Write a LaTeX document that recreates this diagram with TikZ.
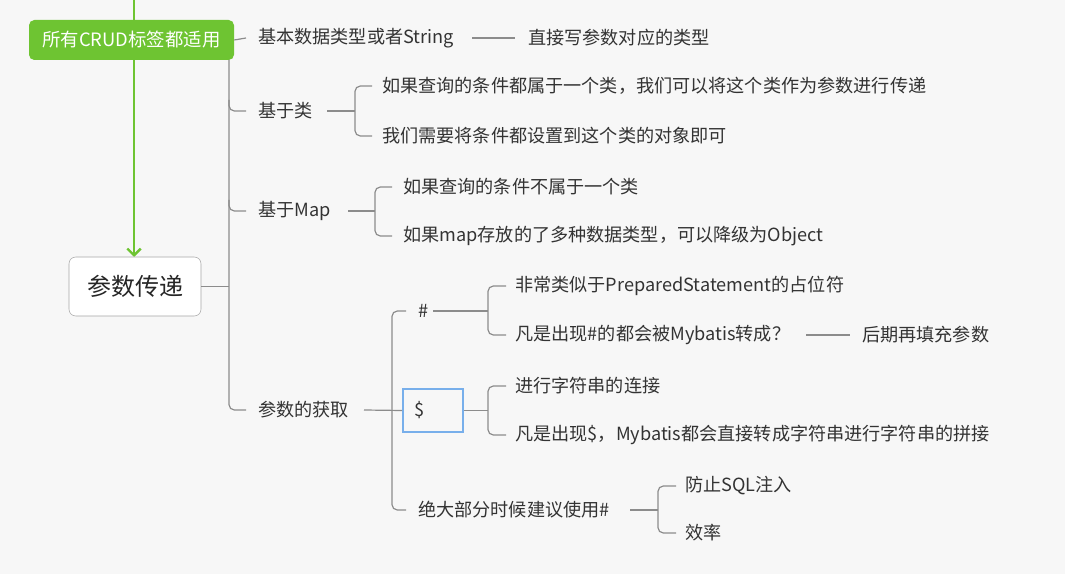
\documentclass[tikz,border=0pt]{standalone}
\usepackage{fontspec}
\setmainfont{Noto Sans CJK SC}
\usetikzlibrary{arrows.meta}
\definecolor{gr}{RGB}{110,196,50}
\begin{document}
\begin{tikzpicture}[x=0.75pt,y=-0.75pt,
  lbl/.style={anchor=west,inner sep=0pt,font=\fontsize{13.6}{15}\selectfont,text=black!80},
  ln/.style={draw=black!45,line width=0.9pt},
  br/.style={ln,rounded corners=4pt}]
\useasboundingbox[fill=white!97!black] (0,0) rectangle (1065,574);
\coordinate (top) at (134,0);
\coordinate (gs) at (134,60);
\coordinate (rn) at (134,257);
\draw[gr, line width=1.8pt] (top) -- (134,20);
\draw[gr, line width=1.8pt, -{Straight Barb[length=5pt,width=10pt]}] (gs) -- (rn);
% green
\node[fill=gr, rounded corners=4pt, minimum width=205*0.75pt, minimum height=40*0.75pt, inner sep=0pt, text=white, font=\fontsize{13.8}{15}\selectfont] (g) at (131.5,40) {所有CRUD标签都适用};
\node[draw=black!35, fill=white, rounded corners=5pt, minimum width=132*0.75pt, minimum height=59*0.75pt, inner sep=0pt, font=\fontsize{18}{20}\selectfont, text=black!85] (root) at (135,286.5) {参数传递};
% level 1
\node[lbl] (a) at (258,38) {基本数据类型或者String};
\node[lbl] (a1) at (528,38) {直接写参数对应的类型};
\node[lbl] (b) at (258,111) {基于类};
\node[lbl] (b1) at (382,86) {如果查询的条件都属于一个类，我们可以将这个类作为参数进行传递};
\node[lbl] (b2) at (382,136) {我们需要将条件都设置到这个类的对象即可};
\node[lbl] (c) at (258,211) {基于Map};
\node[lbl] (c1) at (403,187) {如果查询的条件不属于一个类};
\node[lbl] (c2) at (403,236) {如果map存放的了多种数据类型，可以降级为Object};
\node[lbl] (d) at (258,410) {参数的获取};
\node[lbl] (d1) at (418,311) {\#};
\node[draw={rgb,255:red,120;green,175;blue,235}, line width=1.5pt, minimum width=60*0.75pt, minimum height=43*0.75pt, inner sep=0pt, font=\fontsize{13.6}{15}\selectfont,text=black!80] (d2) at (433,410.5) {\hspace*{-20pt}\$};
\node[lbl] (d3) at (418,510) {绝大部分时候建议使用\#};
\node[lbl] (e1) at (515,286) {非常类似于PreparedStatement的占位符};
\node[lbl] (e2) at (515,335) {凡是出现\#的都会被Mybatis转成？};
\node[lbl] (e3) at (862,335) {后期再填充参数};
\node[lbl] (f1) at (515,386) {进行字符串的连接};
\node[lbl] (f2) at (515,435) {凡是出现\$，Mybatis都会直接转成字符串进行字符串的拼接};
\node[lbl] (h1) at (685,486) {防止SQL注入};
\node[lbl] (h2) at (685,533) {效率};
% trunk
\draw[ln] (root.east) -- (229,286.5);
\draw[ln] (g.east) -- (246,38);
\draw[br] (229,60) -- (229,111) -- (246,111);
\draw[br] (229,100) |- (246,211);
\draw[br] (229,200) |- (246,410);
% b
\draw[ln] (327,111) -- (355,111);
\draw[br] (372,86) -| (355,136) -- (372,136);
\draw[ln] (348,211) -- (375,211);
\draw[br] (392,187) -| (375,236) -- (392,236);
\draw[ln] (472,38) -- (515,38);
% d
\draw[ln] (364,410) -- (d2.west);
\draw[br] (406,311) -| (392,510) -- (406,510);
\draw[ln] (433,311) -- (488,311);
\draw[br] (506,286) -| (488,335) -- (506,335);
\draw[ln] (806,335) -- (850,335);
\draw[ln] (d2.east) -- (488,410.5);
\draw[br] (506,386) -| (488,435) -- (506,435);
\draw[ln] (630,510) -- (658,510);
\draw[br] (676,486) -| (658,533) -- (676,533);
\end{tikzpicture}
\end{document}
